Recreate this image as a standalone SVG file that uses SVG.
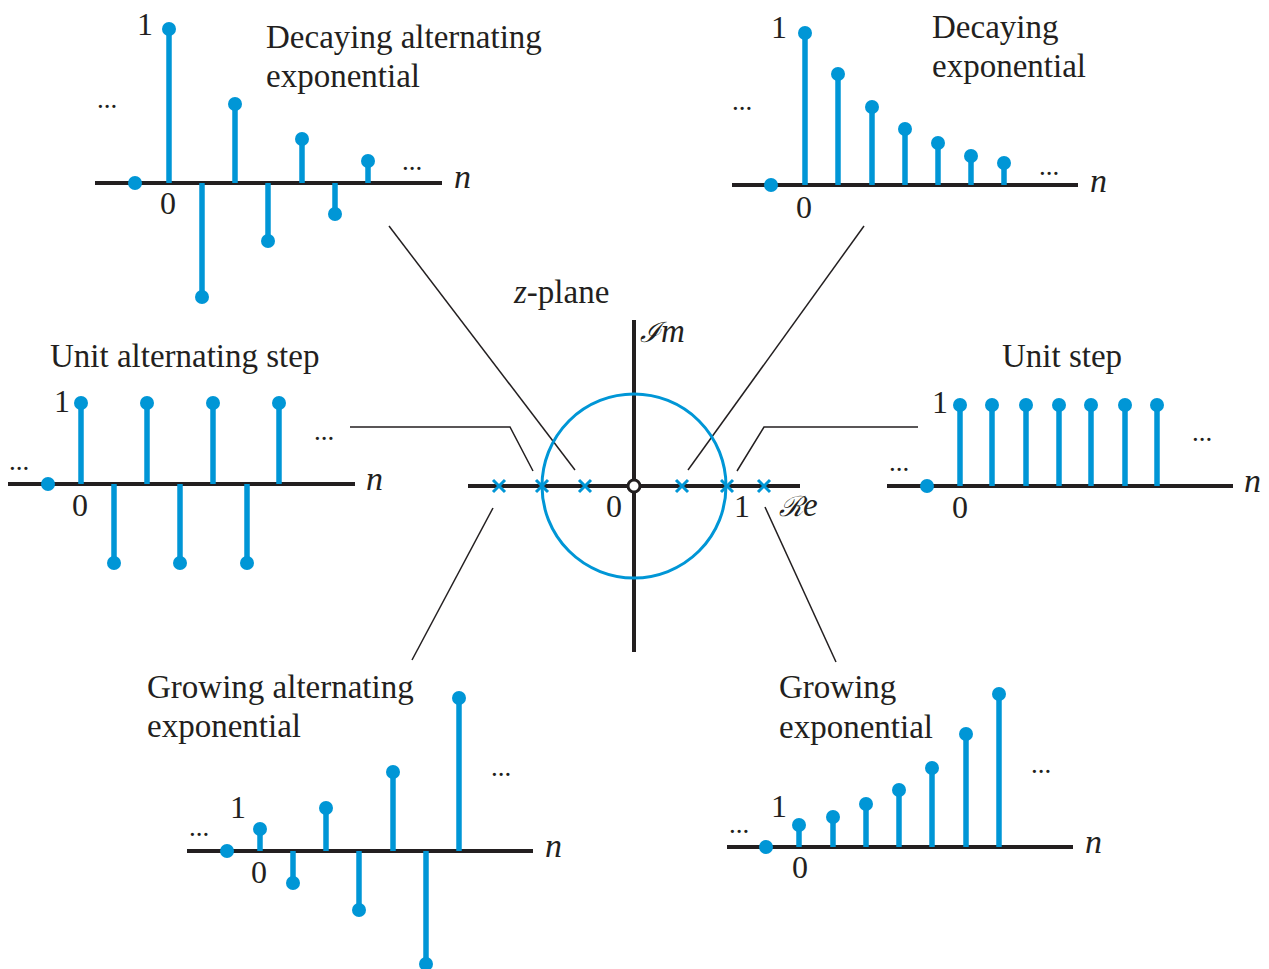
<svg xmlns="http://www.w3.org/2000/svg" width="1269" height="969" viewBox="0 0 1269 969">
<style>
.bg{fill:#ffffff}
.axis{stroke:#231f20;stroke-width:4;fill:none}
.stem{stroke:#0096d6;stroke-width:5.5;fill:none}
.dot{fill:#0096d6}
.conn{stroke:#231f20;stroke-width:1.5;fill:none}
.t{font-family:"Liberation Serif","Times New Roman",serif;font-size:33px;fill:#231f20}
.num{font-family:"Liberation Serif","Times New Roman",serif;font-size:32px;fill:#231f20}
.n{font-family:"Liberation Serif","Times New Roman",serif;font-size:34px;font-style:italic;fill:#231f20}
.dots{font-family:"Liberation Serif","Times New Roman",serif;font-size:27px;fill:#231f20}
.circ{stroke:#0096d6;stroke-width:3;fill:none}
.x{stroke:#0096d6;stroke-width:3}
</style>
<rect class="bg" x="0" y="0" width="1269" height="969"/>

<g id="connectors">
<line class="conn" x1="389" y1="226" x2="575" y2="470"/>
<line class="conn" x1="864" y1="226" x2="688" y2="470"/>
<polyline class="conn" points="350,427 510,427 533,471"/>
<polyline class="conn" points="918,427 764,427 737,471"/>
<line class="conn" x1="493" y1="508" x2="412" y2="660"/>
<line class="conn" x1="765" y1="507" x2="836" y2="662"/>
</g>

<g id="zplane">
<line class="axis" x1="634" y1="320" x2="634" y2="652"/>
<line class="axis" x1="468" y1="486" x2="800" y2="486"/>
<circle class="circ" cx="634" cy="486" r="92"/>
<g class="x">
<path d="M493,480 l12,12 M505,480 l-12,12"/>
<path d="M536,480 l12,12 M548,480 l-12,12"/>
<path d="M579,480 l12,12 M591,480 l-12,12"/>
<path d="M676,480 l12,12 M688,480 l-12,12"/>
<path d="M721,480 l12,12 M733,480 l-12,12"/>
<path d="M758,480 l12,12 M770,480 l-12,12"/>
</g>
<circle cx="634" cy="486" r="6" fill="#ffffff" stroke="#231f20" stroke-width="3"/>
<text class="num" x="606" y="517">0</text>
<text class="num" x="734" y="517">1</text>
<text x="779" y="516" font-family="'DejaVu Serif',serif" font-size="28" font-style="italic" fill="#231f20">ℛ<tspan font-family="'Liberation Serif',serif" font-size="33">e</tspan></text>
<text x="640" y="342" font-family="'DejaVu Serif',serif" font-size="28" font-style="italic" fill="#231f20">ℐ<tspan font-family="'Liberation Serif',serif" font-size="33">m</tspan></text>
<text class="t" x="514" y="303"><tspan font-style="italic">z</tspan>-plane</text>
</g>

<g id="decaying-alternating">
<line class="axis" x1="95" y1="183" x2="442" y2="183"/>
<g class="stem">
<line x1="169" y1="183" x2="169" y2="29"/>
<line x1="202" y1="183" x2="202" y2="297"/>
<line x1="235" y1="183" x2="235" y2="104"/>
<line x1="268" y1="183" x2="268" y2="241"/>
<line x1="302" y1="183" x2="302" y2="139"/>
<line x1="335" y1="183" x2="335" y2="214"/>
<line x1="368" y1="183" x2="368" y2="161"/>
</g>
<g class="dot">
<circle cx="135" cy="183" r="7"/>
<circle cx="169" cy="29" r="7"/>
<circle cx="202" cy="297" r="7"/>
<circle cx="235" cy="104" r="7"/>
<circle cx="268" cy="241" r="7"/>
<circle cx="302" cy="139" r="7"/>
<circle cx="335" cy="214" r="7"/>
<circle cx="368" cy="161" r="7"/>
</g>
<text class="t" x="266" y="48">Decaying alternating</text>
<text class="t" x="266" y="87">exponential</text>
<text class="num" x="137" y="35">1</text>
<text class="num" x="160" y="214">0</text>
<text class="dots" x="97" y="108">...</text>
<text class="dots" x="402" y="170">...</text>
<text class="n" x="454" y="188">n</text>
</g>

<g id="decaying">
<line class="axis" x1="732" y1="185" x2="1078" y2="185"/>
<g class="stem">
<line x1="805" y1="185" x2="805" y2="33"/>
<line x1="838" y1="185" x2="838" y2="74"/>
<line x1="872" y1="185" x2="872" y2="107"/>
<line x1="905" y1="185" x2="905" y2="129"/>
<line x1="938" y1="185" x2="938" y2="143"/>
<line x1="971" y1="185" x2="971" y2="156"/>
<line x1="1004" y1="185" x2="1004" y2="163"/>
</g>
<g class="dot">
<circle cx="771" cy="185" r="7"/>
<circle cx="805" cy="33" r="7"/>
<circle cx="838" cy="74" r="7"/>
<circle cx="872" cy="107" r="7"/>
<circle cx="905" cy="129" r="7"/>
<circle cx="938" cy="143" r="7"/>
<circle cx="971" cy="156" r="7"/>
<circle cx="1004" cy="163" r="7"/>
</g>
<text class="t" x="932" y="38">Decaying</text>
<text class="t" x="932" y="77">exponential</text>
<text class="num" x="771" y="38">1</text>
<text class="num" x="796" y="218">0</text>
<text class="dots" x="732" y="110">...</text>
<text class="dots" x="1039" y="175">...</text>
<text class="n" x="1090" y="192">n</text>
</g>

<g id="unit-alternating-step">
<line class="axis" x1="8" y1="484" x2="355" y2="484"/>
<g class="stem">
<line x1="81" y1="484" x2="81" y2="403"/>
<line x1="114" y1="484" x2="114" y2="563"/>
<line x1="147" y1="484" x2="147" y2="403"/>
<line x1="180" y1="484" x2="180" y2="563"/>
<line x1="213" y1="484" x2="213" y2="403"/>
<line x1="247" y1="484" x2="247" y2="563"/>
<line x1="279" y1="484" x2="279" y2="403"/>
</g>
<g class="dot">
<circle cx="48" cy="484" r="7"/>
<circle cx="81" cy="403" r="7"/>
<circle cx="114" cy="563" r="7"/>
<circle cx="147" cy="403" r="7"/>
<circle cx="180" cy="563" r="7"/>
<circle cx="213" cy="403" r="7"/>
<circle cx="247" cy="563" r="7"/>
<circle cx="279" cy="403" r="7"/>
</g>
<text class="t" x="50" y="367">Unit alternating step</text>
<text class="num" x="54" y="412">1</text>
<text class="num" x="72" y="516">0</text>
<text class="dots" x="9" y="470">...</text>
<text class="dots" x="314" y="440">...</text>
<text class="n" x="366" y="490">n</text>
</g>

<g id="unit-step">
<line class="axis" x1="887" y1="486" x2="1233" y2="486"/>
<g class="stem">
<line x1="960" y1="486" x2="960" y2="405"/>
<line x1="992" y1="486" x2="992" y2="405"/>
<line x1="1026" y1="486" x2="1026" y2="405"/>
<line x1="1059" y1="486" x2="1059" y2="405"/>
<line x1="1091" y1="486" x2="1091" y2="405"/>
<line x1="1125" y1="486" x2="1125" y2="405"/>
<line x1="1157" y1="486" x2="1157" y2="405"/>
</g>
<g class="dot">
<circle cx="927" cy="486" r="7"/>
<circle cx="960" cy="405" r="7"/>
<circle cx="992" cy="405" r="7"/>
<circle cx="1026" cy="405" r="7"/>
<circle cx="1059" cy="405" r="7"/>
<circle cx="1091" cy="405" r="7"/>
<circle cx="1125" cy="405" r="7"/>
<circle cx="1157" cy="405" r="7"/>
</g>
<text class="t" x="1002" y="367">Unit step</text>
<text class="num" x="932" y="413">1</text>
<text class="num" x="952" y="518">0</text>
<text class="dots" x="889" y="471">...</text>
<text class="dots" x="1192" y="441">...</text>
<text class="n" x="1244" y="492">n</text>
</g>

<g id="growing-alternating">
<line class="axis" x1="187" y1="851" x2="533" y2="851"/>
<g class="stem">
<line x1="260" y1="851" x2="260" y2="829"/>
<line x1="293" y1="851" x2="293" y2="883"/>
<line x1="326" y1="851" x2="326" y2="808"/>
<line x1="359" y1="851" x2="359" y2="910"/>
<line x1="393" y1="851" x2="393" y2="772"/>
<line x1="426" y1="851" x2="426" y2="964"/>
<line x1="459" y1="851" x2="459" y2="698"/>
</g>
<g class="dot">
<circle cx="227" cy="851" r="7"/>
<circle cx="260" cy="829" r="7"/>
<circle cx="293" cy="883" r="7"/>
<circle cx="326" cy="808" r="7"/>
<circle cx="359" cy="910" r="7"/>
<circle cx="393" cy="772" r="7"/>
<circle cx="426" cy="964" r="7"/>
<circle cx="459" cy="698" r="7"/>
</g>
<text class="t" x="147" y="698">Growing alternating</text>
<text class="t" x="147" y="737">exponential</text>
<text class="num" x="230" y="818">1</text>
<text class="num" x="251" y="883">0</text>
<text class="dots" x="189" y="836">...</text>
<text class="dots" x="491" y="776">...</text>
<text class="n" x="545" y="857">n</text>
</g>

<g id="growing">
<line class="axis" x1="727" y1="847" x2="1073" y2="847"/>
<g class="stem">
<line x1="799" y1="847" x2="799" y2="825"/>
<line x1="833" y1="847" x2="833" y2="817"/>
<line x1="866" y1="847" x2="866" y2="804"/>
<line x1="899" y1="847" x2="899" y2="790"/>
<line x1="932" y1="847" x2="932" y2="768"/>
<line x1="966" y1="847" x2="966" y2="734"/>
<line x1="999" y1="847" x2="999" y2="694"/>
</g>
<g class="dot">
<circle cx="766" cy="847" r="7"/>
<circle cx="799" cy="825" r="7"/>
<circle cx="833" cy="817" r="7"/>
<circle cx="866" cy="804" r="7"/>
<circle cx="899" cy="790" r="7"/>
<circle cx="932" cy="768" r="7"/>
<circle cx="966" cy="734" r="7"/>
<circle cx="999" cy="694" r="7"/>
</g>
<text class="t" x="779" y="698">Growing</text>
<text class="t" x="779" y="738">exponential</text>
<text class="num" x="771" y="817">1</text>
<text class="num" x="792" y="878">0</text>
<text class="dots" x="729" y="833">...</text>
<text class="dots" x="1031" y="773">...</text>
<text class="n" x="1085" y="853">n</text>
</g>
</svg>
